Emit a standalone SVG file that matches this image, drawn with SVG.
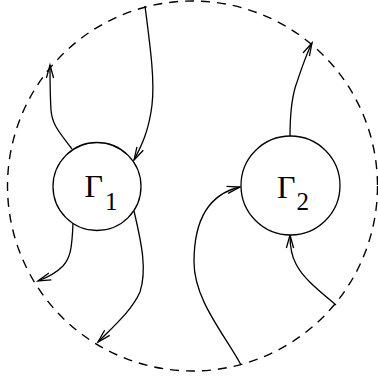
<svg xmlns="http://www.w3.org/2000/svg" width="378" height="382" viewBox="0 0 378 382">
<style>
.b{fill:none;stroke:#000;stroke-width:1.4;stroke-dasharray:9 7}
.n{fill:#fff;stroke:#000;stroke-width:1.3}
.c{fill:none;stroke:#000;stroke-width:1.3;marker-end:url(#ah)}
.t{font-family:"Liberation Serif","Times New Roman",serif;fill:#000}
</style>
<defs>
<marker id="ah" markerUnits="userSpaceOnUse" viewBox="-14 -6 16 12" refX="0" refY="0" markerWidth="16" markerHeight="12" orient="auto" overflow="visible">
<path d="M-13,-3.6 L0,0 L-13,3.6" fill="none" stroke="#000" stroke-width="1.3"/>
</marker>
</defs>
<circle class="b" cx="192.5" cy="186" r="185"/>
<g id="connectors">
<path class="c" d="M145,6 C150,45 155,80 152,105 C149,130 142,145 134,160"/>
<path class="c" d="M72,149 C60,133 52,125 51,110 C50,95 50,80 50,65"/>
<path class="c" d="M290,137 C290,110 292,95 297,82 C301,70 306,55 312,43"/>
<path class="c" d="M73,223 C72,250 70,258 63,266 C55,274 46,278 38,281"/>
<path class="c" d="M134,211 C142,245 147,270 140,292 C132,310 115,325 98,342"/>
<path class="c" d="M241,365 C225,335 194,300 194,262 C194,225 205,195 240,187"/>
<path class="c" d="M336,305 C318,290 303,278 296,264 C291,255 290,245 290,235"/>
</g>
<g id="gamma1">
<circle class="n" cx="97" cy="186.5" r="44"/>
<text class="t" x="84.5" y="197" font-size="32">Γ</text>
<text class="t" x="105" y="210" font-size="25">1</text>
</g>
<g id="gamma2">
<circle class="n" cx="290.5" cy="185.5" r="49.5"/>
<text class="t" x="277" y="198" font-size="32">Γ</text>
<text class="t" x="296.5" y="210" font-size="25">2</text>
</g>
</svg>
